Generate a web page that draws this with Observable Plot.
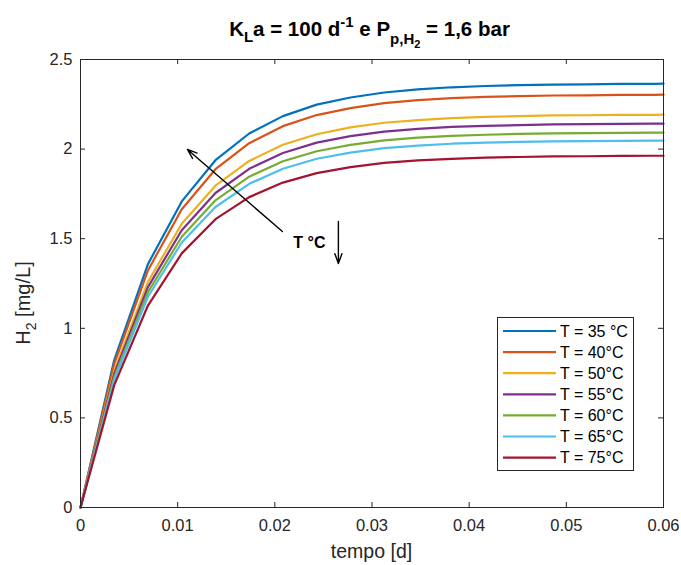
<!DOCTYPE html>
<html><head><meta charset="utf-8">
<script src="https://cdn.jsdelivr.net/npm/d3@7"></script>
<script src="https://cdn.jsdelivr.net/npm/@observablehq/plot@0.6"></script>
<style>body{margin:0;background:#fff}</style>
</head><body><div id="chart"></div>
<script>
// ---- data ----
const tempo = [0, 0.00347, 0.00694, 0.01042, 0.01389, 0.01736, 0.02083, 0.02431, 0.02778, 0.03125, 0.03472, 0.03819, 0.04167, 0.04514, 0.04861, 0.05208, 0.05556, 0.05903, 0.06];
const seriesLabels = ["T = 35 °C", "T = 40°C", "T = 50°C", "T = 55°C", "T = 60°C", "T = 65°C", "T = 75°C"];
const h2_35 = [0, 0.823, 1.358, 1.708, 1.938, 2.087, 2.184, 2.248, 2.288, 2.316, 2.333, 2.345, 2.352, 2.357, 2.360, 2.361, 2.364, 2.364, 2.365];
const h2_40 = [0, 0.802, 1.323, 1.664, 1.888, 2.033, 2.128, 2.190, 2.229, 2.257, 2.273, 2.284, 2.291, 2.296, 2.299, 2.300, 2.303, 2.303, 2.304];
const h2_50 = [0, 0.763, 1.259, 1.583, 1.796, 1.934, 2.024, 2.083, 2.121, 2.147, 2.162, 2.173, 2.180, 2.184, 2.188, 2.189, 2.191, 2.191, 2.192];
const h2_55 = [0, 0.746, 1.230, 1.547, 1.755, 1.890, 1.978, 2.036, 2.072, 2.098, 2.113, 2.124, 2.130, 2.134, 2.138, 2.139, 2.141, 2.142, 2.142];
const h2_60 = [0, 0.728, 1.201, 1.511, 1.714, 1.846, 1.932, 1.988, 2.024, 2.049, 2.064, 2.074, 2.080, 2.085, 2.088, 2.089, 2.091, 2.092, 2.092];
const h2_65 = [0, 0.713, 1.176, 1.479, 1.677, 1.806, 1.890, 1.946, 1.980, 2.005, 2.019, 2.030, 2.036, 2.040, 2.043, 2.044, 2.046, 2.047, 2.047];
const h2_75 = [0, 0.683, 1.127, 1.418, 1.609, 1.732, 1.813, 1.866, 1.899, 1.923, 1.937, 1.946, 1.952, 1.956, 1.959, 1.960, 1.962, 1.963, 1.963];
const seriesValues = [h2_35, h2_40, h2_50, h2_55, h2_60, h2_65, h2_75];
const seriesColors = ["#0072BD", "#D95319", "#EDB120", "#7E2F8E", "#77AC30", "#4DBEEE", "#A2142F"];
const xTicks = [0, 0.01, 0.02, 0.03, 0.04, 0.05, 0.06];
const xTickLabels = ["0", "0.01", "0.02", "0.03", "0.04", "0.05", "0.06"];
const yTicks = [0, 0.5, 1, 1.5, 2, 2.5];
const yTickLabels = ["0", "0.5", "1", "1.5", "2", "2.5"];

// ---- layout ----
const W = 681, H = 565, mL = 80, mR = 18, mT = 59, mB = 58;
const fw = W - mL - mR, fh = H - mT - mB;
const axisColor = "#262626";
const font = "'Liberation Sans', Arial, Helvetica, sans-serif";

const rows = seriesLabels.flatMap((s, k) => tempo.map((t, i) => ({t, h: seriesValues[k][i], s})));

// annotation arrows (data coordinates)
const annArrows = [
  {x1: 0.02078, y1: 1.540, x2: 0.01101, y2: 1.998},
  {x1: 0.02654, y1: 1.596, x2: 0.02654, y2: 1.362}
];
const annText = [{x: 0.02356, y: 1.479, label: "T °C"}];

const chart = Plot.plot({
  width: W, height: H,
  marginLeft: mL, marginRight: mR, marginTop: mT, marginBottom: mB,
  style: {fontFamily: font, color: axisColor, background: "white", overflow: "visible"},
  x: {domain: [0, 0.06]},
  y: {domain: [0, 2.5]},
  color: {domain: seriesLabels, range: seriesColors},
  marks: [
    Plot.line(rows, {x: "t", y: "h", stroke: "s", strokeWidth: 2.2, strokeLinejoin: "round"}),
    Plot.frame({stroke: axisColor, strokeWidth: 1}),
    Plot.tickX(xTicks, {x: d => d, insetTop: fh - 5, stroke: axisColor}),
    Plot.tickX(xTicks, {x: d => d, insetBottom: fh - 5, stroke: axisColor}),
    Plot.tickY(yTicks, {y: d => d, insetRight: fw - 5, stroke: axisColor}),
    Plot.tickY(yTicks, {y: d => d, insetLeft: fw - 5, stroke: axisColor}),
    Plot.axisX({ticks: xTicks, tickFormat: d => xTickLabels[xTicks.indexOf(d)], tickSize: 0, tickPadding: 12, fontSize: 16.5, label: null, fill: axisColor}),
    Plot.axisY({ticks: yTicks, tickFormat: d => yTickLabels[yTicks.indexOf(d)], tickSize: 0, tickPadding: 8, fontSize: 16.5, label: null, fill: axisColor}),
    Plot.arrow(annArrows, {x1: "x1", y1: "y1", x2: "x2", y2: "y2", stroke: "black", strokeWidth: 1.4, headLength: 11, headAngle: 40}),
    Plot.text(annText, {x: "x", y: "y", text: "label", fontSize: 16, fontWeight: "bold", fill: "black"})
  ]
});

const svg = d3.select(chart);

// Title
const title = svg.append("text")
  .attr("x", mL + fw / 2 - 2).attr("y", 36)
  .attr("text-anchor", "middle")
  .attr("font-family", font).attr("font-weight", "bold").attr("font-size", 20.5)
  .attr("fill", "black");
title.append("tspan").text("K");
title.append("tspan").attr("font-size", 15).attr("dy", 6).text("L");
title.append("tspan").attr("dy", -6).text("a = 100 d");
title.append("tspan").attr("font-size", 15).attr("dy", -9).text("-1");
title.append("tspan").attr("dy", 9).text(" e P");
title.append("tspan").attr("font-size", 15).attr("dy", 8).text("p,H");
title.append("tspan").attr("font-size", 11).attr("dy", 4).text("2");
title.append("tspan").attr("dy", -12).text(" = 1,6 bar");

// X label
svg.append("text")
  .attr("x", mL + fw / 2).attr("y", 558)
  .attr("text-anchor", "middle")
  .attr("font-family", font).attr("font-size", 19.5).attr("fill", axisColor)
  .text("tempo [d]");

// Y label
const yl = svg.append("text")
  .attr("transform", `translate(30,${mT + fh / 2 + 20}) rotate(-90)`)
  .attr("text-anchor", "middle")
  .attr("font-family", font).attr("font-size", 20).attr("fill", axisColor);
yl.append("tspan").text("H");
yl.append("tspan").attr("font-size", 14).attr("dy", 6).text("2");
yl.append("tspan").attr("dy", -6).text(" [mg/L]");

// Legend
const lg = svg.append("g");
lg.append("rect").attr("x", 497.5).attr("y", 317.5).attr("width", 136).attr("height", 153)
  .attr("fill", "white").attr("stroke", axisColor).attr("stroke-width", 1);
seriesLabels.forEach((s, i) => {
  const y = 331 + i * 21.1;
  lg.append("line").attr("x1", 503).attr("x2", 556).attr("y1", y).attr("y2", y)
    .attr("stroke", seriesColors[i]).attr("stroke-width", 2.2);
  lg.append("text").attr("x", 560).attr("y", y).attr("dy", "0.35em")
    .attr("text-anchor", "start")
    .attr("font-family", font).attr("font-size", 16).attr("fill", "black").text(s);
});

document.getElementById("chart").appendChild(chart);
</script>
</body></html>
